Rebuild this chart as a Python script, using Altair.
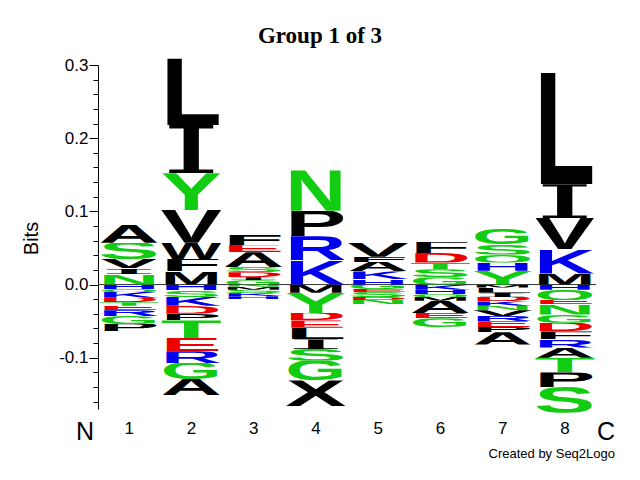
import base64
import altair as alt
import pandas as pd

positions = ["1", "2", "3", "4", "5", "6", "7", "8"]

# letters stacked above zero, listed from the bottom upwards
up_letters = ["NIVSA", "MFWVYIL", "GIDSAEF", "KRPN", "HKAFV", "GSTDF", "YHQSG", "MKVIL"]
up_bits = [
    [0.014, 0.008, 0.013, 0.022, 0.025],
    [0.018, 0.017, 0.022, 0.045, 0.050, 0.066, 0.091],
    [0.006, 0.004, 0.007, 0.007, 0.020, 0.010, 0.014],
    [0.033, 0.033, 0.035, 0.055],
    [0.007, 0.011, 0.013, 0.007, 0.019],
    [0.010, 0.011, 0.009, 0.013, 0.015],
    [0.019, 0.011, 0.011, 0.014, 0.021],
    [0.015, 0.033, 0.043, 0.046, 0.153],
]

# letters stacked below zero, listed from zero downwards
down_letters = ["HQKDTERGP", "HSKDPTERGA", "NMSKH", "MYDELISGX", "GESDN",
                "KHQMAEG", "MLIDKNVREPA", "HQENGDFRATPS"]
down_bits = [
    [0.006, 0.004, 0.008, 0.006, 0.005, 0.006, 0.008, 0.011, 0.010],
    [0.008, 0.009, 0.012, 0.011, 0.009, 0.024, 0.018, 0.016, 0.022, 0.022],
    [0.003, 0.004, 0.005, 0.004, 0.004],
    [0.011, 0.028, 0.010, 0.010, 0.016, 0.013, 0.016, 0.027, 0.035],
    [0.006, 0.004, 0.007, 0.004, 0.006],
    [0.007, 0.006, 0.004, 0.005, 0.017, 0.007, 0.012],
    [0.004, 0.007, 0.006, 0.006, 0.006, 0.006, 0.008, 0.007, 0.008, 0.007, 0.017],
    [0.007, 0.014, 0.006, 0.014, 0.011, 0.012, 0.011, 0.011, 0.014, 0.020, 0.020, 0.035],
]

tick_values = [i / 50 for i in range(-8, 16)]

# ---- colours (Seq2Logo default scheme) -----------------------------------
BLACK, GREEN, RED, BLUE = "#000000", "#11CC11", "#EE0000", "#0000EE"
letter_color = {}
for ch in "AVLIPWFMX":
    letter_color[ch] = BLACK
for ch in "GSTYCNQ":
    letter_color[ch] = GREEN
for ch in "DE":
    letter_color[ch] = RED
for ch in "KRH":
    letter_color[ch] = BLUE


def glyph_url(letter):
    color = letter_color[letter]
    if letter == "I":
        family, cap, weight = "DejaVu Serif, Liberation Serif, serif", 72.9, "normal"
    else:
        family, cap, weight = "Liberation Sans, Arial, Helvetica, sans-serif", 69, "bold"
    svg = (
        f'<svg xmlns="http://www.w3.org/2000/svg" width="100" height="{cap}" '
        f'viewBox="0 0 100 {cap}" preserveAspectRatio="none">'
        f'<text x="0" y="{cap}" font-family="{family}" font-weight="{weight}" '
        f'font-size="100" textLength="100" lengthAdjust="spacingAndGlyphs" '
        f'fill="{color}">{letter}</text></svg>'
    )
    return "data:image/svg+xml;base64," + base64.b64encode(svg.encode()).decode()


rows = []
for pos, letters, bits in zip(positions, up_letters, up_bits):
    base = 0.0
    for ch, b in zip(letters, bits):
        rows.append({"pos": pos, "letter": ch, "y0": base, "y1": base + b, "url": glyph_url(ch)})
        base += b
for pos, letters, bits in zip(positions, down_letters, down_bits):
    base = 0.0
    for ch, b in zip(letters, bits):
        rows.append({"pos": pos, "letter": ch, "y0": base - b, "y1": base, "url": glyph_url(ch)})
        base -= b
df = pd.DataFrame(rows)

yscale = alt.Scale(domain=[-0.17, 0.30], nice=False, zero=False)
major_test = "abs(datum.value*10 - round(datum.value*10)) < 0.001"

y_axis = alt.Axis(
    values=tick_values,
    labelExpr=f"{major_test} ? replace(format(datum.value, '.1f'), '\u2212', '-') : ''",
    tickSize={"condition": {"test": major_test, "value": 9}, "value": 5},
    tickColor="black",
    domainColor="black",
    labelColor="black",
    labelFont="Liberation Sans",
    labelFontSize=17,
    labelPadding=1,
    grid=False,
    title="Bits",
    titleFont="Liberation Sans",
    titleFontSize=20,
    titleFontWeight="normal",
    titleColor="black",
    titleAngle=270,
    titleX=-67,
    titleY=173,
    titleAlign="center",
    titleBaseline="middle",
)

x_axis = alt.Axis(
    title=None,
    ticks=False,
    domain=False,
    labelAngle=0,
    labelFont="Liberation Sans",
    labelFontSize=17,
    labelColor="black",
    labelPadding=11,
)

zero_rule = alt.Chart(pd.DataFrame({"zero": [0.0]})).mark_rule(
    color="#333333", strokeWidth=1
).encode(y=alt.Y("zero:Q", scale=yscale, axis=y_axis))

letters = alt.Chart(df).mark_image(aspect=False).encode(
    x=alt.X("pos:N", scale=alt.Scale(type="band", domain=positions,
                                     paddingInner=0.02, paddingOuter=0.01),
            axis=x_axis),
    y=alt.Y("y0:Q", scale=yscale, axis=y_axis),
    y2="y1:Q",
    url="url:N",
)


def label(text, x, y, size, font="Liberation Sans", weight="normal", align="center"):
    return alt.Chart(pd.DataFrame({"t": [text]})).mark_text(
        font=font, fontSize=size, fontWeight=weight, align=align,
        baseline="alphabetic", color="black"
    ).encode(text="t:N", x=alt.value(x), y=alt.value(y))


title = label("Group 1 of 3", 222, -22, 23, font="Liberation Serif", weight="bold")
n_lab = label("N", -13, 375, 25)
c_lab = label("C", 508, 375, 25)
credit = label("Created by Seq2Logo", 517, 393, 13, align="right")

chart = alt.layer(zero_rule, letters, title, n_lab, c_lab, credit).properties(
    width=498,
    height=344,
    autosize="none",
    padding={"left": 90, "top": 57, "right": 36, "bottom": 63},
    background="white",
).configure_view(stroke=None)

chart.save("out.html", embed_options={"renderer": "svg", "actions": False})
